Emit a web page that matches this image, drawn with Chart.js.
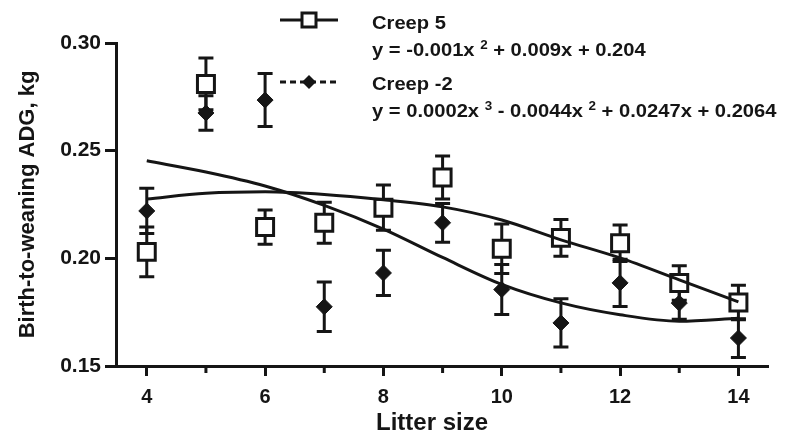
<!DOCTYPE html>
<html>
<head>
<meta charset="utf-8">
<script src="https://cdn.jsdelivr.net/npm/chart.js@4/dist/chart.umd.min.js"></script>
<style>
  html,body{margin:0;padding:0;background:#fff;}
  #c{display:block;}
</style>
</head>
<body>
<canvas id="c" width="785" height="432"></canvas>
<script>
// data
const litterSize = [4, 5, 6, 7, 8, 9, 10, 11, 12, 13, 14];
const creep5     = [0.203, 0.281, 0.2145, 0.2165, 0.2235, 0.2375, 0.2045, 0.2095, 0.207, 0.1885, 0.1795];
const creep5Err  = [0.0115, 0.012, 0.008, 0.0095, 0.0105, 0.0100, 0.0115, 0.0085, 0.0085, 0.008, 0.008];
const creepM2    = [0.222, 0.2675, 0.2735, 0.1775, 0.1932, 0.2165, 0.1855, 0.170, 0.1886, 0.1792, 0.163];
const creepM2Err = [0.0105, 0.008, 0.0123, 0.0115, 0.0105, 0.009, 0.0116, 0.0112, 0.011, 0.0075, 0.009];

// fitted curves, read at each litter size
const creep5Fit  = [0.2276, 0.2302, 0.2309, 0.2297, 0.2272, 0.2239, 0.2178, 0.2086, 0.2002, 0.1900, 0.1798];
const creepM2Fit = [0.2453, 0.2401, 0.2336, 0.2246, 0.2136, 0.2004, 0.1879, 0.1793, 0.1738, 0.1708, 0.1722];

const xTicks = [4, 5, 6, 7, 8, 9, 10, 11, 12, 13, 14];
const yTicks = [0.15, 0.20, 0.25, 0.30];
const seriesNames = ['Creep 5', 'Creep -2'];
// equation pieces: [text, superscript?]
const eqCreep5  = [['y = -0.001x ', false], ['2', true], [' + 0.009x + 0.204', false]];
const eqCreepM2 = [['y = 0.0002x ', false], ['3', true], [' - 0.0044x ', false], ['2', true], [' + 0.0247x + 0.2064', false]];

const INK = '#151515';
const FONT = '"Liberation Sans", Arial, sans-serif';

const pts = (xs, ys) => xs.map((x,i)=>({x, y:ys[i]}));

const errorBars = {
  id:'errorBars',
  beforeDatasetsDraw(chart){
    const {ctx, scales:{x, y}} = chart;
    ctx.save();
    ctx.strokeStyle = INK; ctx.lineWidth = 3; ctx.lineCap = 'butt';
    [[creep5, creep5Err], [creepM2, creepM2Err]].forEach(([vals, errs])=>{
      vals.forEach((v,i)=>{
        const px = x.getPixelForValue(litterSize[i]);
        const top = y.getPixelForValue(v + errs[i]);
        const bot = y.getPixelForValue(v - errs[i]);
        ctx.beginPath();
        ctx.moveTo(px, top); ctx.lineTo(px, bot);
        ctx.moveTo(px-7.5, top); ctx.lineTo(px+7.5, top);
        ctx.moveTo(px-7.5, bot); ctx.lineTo(px+7.5, bot);
        ctx.stroke();
      });
    });
    ctx.restore();
  }
};

function drawText(ctx, segs, x, y, size){
  // slightly widened glyphs, as in the original figure
  ctx.save();
  ctx.translate(x, y);
  ctx.scale(1.12, 1);
  let cx = 0;
  segs.forEach(([t, sup])=>{
    ctx.font = 'bold ' + (sup ? Math.round(size*0.68) : size) + 'px ' + FONT;
    ctx.fillText(t, cx, sup ? -7 : 0);
    cx += ctx.measureText(t).width;
  });
  ctx.restore();
}

const decorations = {
  id:'decorations',
  afterDraw(chart){
    const {ctx, scales:{x}} = chart;
    const bottom = chart.chartArea.bottom;
    ctx.save();
    // minor ticks on odd litter sizes
    ctx.strokeStyle = INK; ctx.lineWidth = 3;
    xTicks.filter(v=>v%2).forEach(v=>{
      const px = x.getPixelForValue(v);
      ctx.beginPath(); ctx.moveTo(px, bottom); ctx.lineTo(px, bottom+7); ctx.stroke();
    });

    // legend symbols
    ctx.beginPath(); ctx.moveTo(280, 20); ctx.lineTo(338, 20); ctx.stroke();
    ctx.fillStyle = '#fff';
    ctx.fillRect(302, 13, 14, 14); ctx.strokeRect(302, 13, 14, 14);
    ctx.setLineDash([6, 4]);
    ctx.beginPath(); ctx.moveTo(280, 82); ctx.lineTo(338, 82); ctx.stroke();
    ctx.setLineDash([]);
    ctx.fillStyle = INK;
    ctx.beginPath(); ctx.moveTo(309, 75); ctx.lineTo(316, 82); ctx.lineTo(309, 89); ctx.lineTo(302, 82); ctx.closePath(); ctx.fill();

    // legend text
    ctx.textBaseline = 'alphabetic';
    drawText(ctx, [[seriesNames[0], false]], 372, 29, 18);
    drawText(ctx, eqCreep5, 372, 56, 18);
    drawText(ctx, [[seriesNames[1], false]], 372, 90, 18);
    drawText(ctx, eqCreepM2, 372, 117, 18);

    // x axis title
    ctx.font = 'bold 24px ' + FONT;
    ctx.textAlign = 'center';
    ctx.fillText('Litter size', 432, 430);
    ctx.restore();
  }
};

new Chart(document.getElementById('c'), {
  type:'scatter',
  data:{
    datasets:[
      { label:seriesNames[0]+' fit', data:pts(litterSize, creep5Fit), showLine:true, borderColor:INK, borderWidth:3,
        pointRadius:0, cubicInterpolationMode:'monotone', order:0 },
      { label:seriesNames[1]+' fit', data:pts(litterSize, creepM2Fit), showLine:true, borderColor:INK, borderWidth:3,
        pointRadius:0, cubicInterpolationMode:'monotone', order:0 },
      { label:seriesNames[0], data:pts(litterSize, creep5), showLine:false, pointStyle:'rect', pointRadius:12,
        pointBackgroundColor:'#fff', pointBorderColor:INK, pointBorderWidth:3, order:2 },
      { label:seriesNames[1], data:pts(litterSize, creepM2), showLine:false, pointStyle:'rectRot', pointRadius:8,
        pointBackgroundColor:INK, pointBorderColor:INK, pointBorderWidth:1, order:1 }
    ]
  },
  options:{
    responsive:false, animation:false, devicePixelRatio:1,
    layout:{ padding:{ left:0, top:43, right:17, bottom:0 } },
    plugins:{ legend:{display:false}, tooltip:{enabled:false} },
    scales:{
      x:{
        type:'linear', min:3.48, max:14.5,
        afterBuildTicks:s=>{ s.ticks = xTicks.map(v=>({value:v})); },
        afterFit:s=>{ s.height = 66; },
        border:{ display:true, width:3, color:INK },
        grid:{ drawOnChartArea:false, tickLength:10, tickWidth:3,
               tickColor:c=> (c.tick && c.tick.value%2) ? 'rgba(0,0,0,0)' : INK },
        ticks:{ color:INK, padding:9, font:{family:FONT, size:20, weight:'bold'},
                callback:v=> v%2 ? '' : v }
      },
      y:{
        type:'linear', min:0.15, max:0.30,
        afterBuildTicks:s=>{ s.ticks = yTicks.map(v=>({value:v})); },
        afterFit:s=>{ s.width = 116; },
        border:{ display:true, width:3, color:INK },
        grid:{ drawOnChartArea:false, tickLength:11, tickWidth:3, tickColor:INK },
        ticks:{ color:INK, padding:4, font:{family:FONT, size:21, weight:'bold'},
                callback:v=> v.toFixed(2) },
        title:{ display:true, text:'Birth-to-weaning ADG, kg', color:INK,
                font:{family:FONT, size:22, weight:'bold'}, padding:{top:15, bottom:0} }
      }
    }
  },
  plugins:[errorBars, decorations]
});
</script>
</body>
</html>
